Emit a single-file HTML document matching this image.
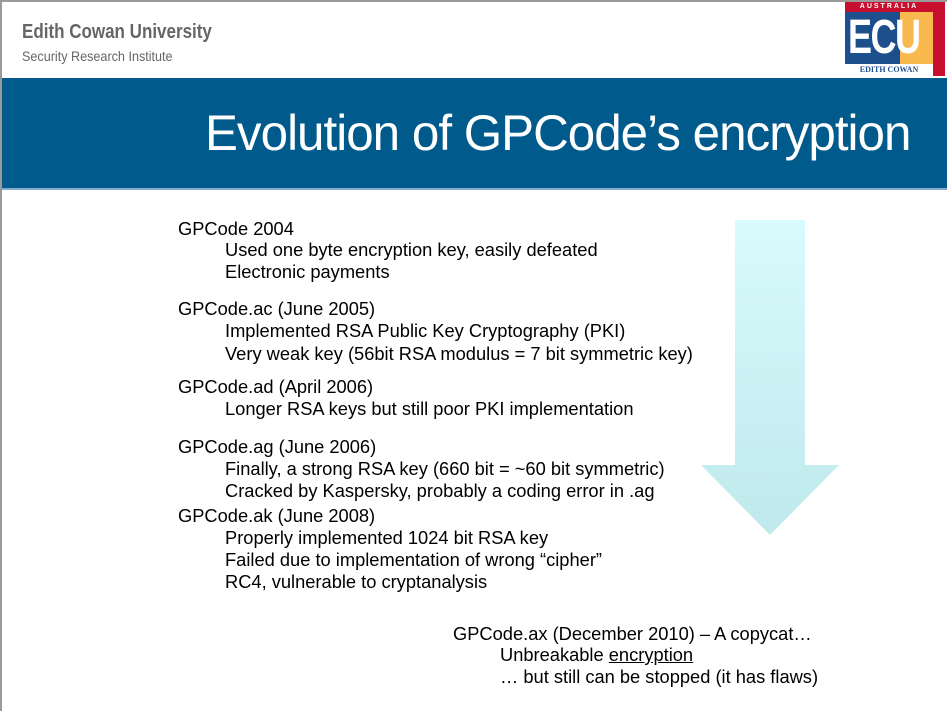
<!DOCTYPE html>
<html><head><meta charset="utf-8"><style>
body{margin:0;width:947px;height:711px;overflow:hidden;background:#fff;font-family:"Liberation Sans",sans-serif;position:relative}
.frame{position:absolute;left:0;top:0;width:945px;height:709px;border-left:2px solid #9a9a9a;border-top:2px solid #9a9a9a}
.t{position:absolute;font-size:18.3px;color:#000;white-space:nowrap;line-height:20px}
</style></head><body>
<div class="frame"></div>
<div style="position:absolute;left:22px;top:21px;font-size:20px;font-weight:bold;color:#666;transform:scaleX(0.85);transform-origin:left">Edith Cowan University</div>
<div style="position:absolute;left:22px;top:48px;font-size:14px;color:#666;transform:scaleX(0.9);transform-origin:left">Security Research Institute</div>
<div style="position:absolute;left:2px;top:78px;width:945px;height:110px;background:#005a8c"></div>
<div style="position:absolute;left:2px;top:188px;width:945px;height:2px;background:#8ac"></div>
<div style="position:absolute;left:205px;top:104px;font-size:50px;color:#fff;letter-spacing:-1px;transform:scaleX(0.987);transform-origin:left;white-space:nowrap">Evolution of GPCode’s encryption</div>
<!-- logo -->
<div style="position:absolute;left:845px;top:2px;width:100px;height:74px;background:#1c4f8c"></div>
<div style="position:absolute;left:845px;top:2px;width:88px;height:10px;background:#c8102e;color:#fff;font-size:7px;font-weight:bold;letter-spacing:2px;text-align:center;line-height:10px">AUSTRALIA</div>
<div style="position:absolute;left:933px;top:2px;width:12px;height:74px;background:#c8102e"></div>
<div style="position:absolute;left:900px;top:12px;width:33px;height:52px;background:#f9b94e"></div>
<div style="position:absolute;left:848px;top:14px;font-size:48px;font-weight:bold;color:#fff;line-height:48px;letter-spacing:-2px;transform:scaleX(0.75);transform-origin:left">ECU</div>
<div style="position:absolute;left:845px;top:64px;width:88px;height:12px;background:#fff;color:#1c4f8c;font-size:8px;font-family:'Liberation Serif',serif;font-weight:bold;text-align:center;line-height:12px">EDITH COWAN</div>
<!-- arrow -->
<svg style="position:absolute;left:0;top:0" width="947" height="711">
<defs><linearGradient id="g" x1="0" y1="0" x2="0" y2="1"><stop offset="0" stop-color="#d8fbfd"/><stop offset="1" stop-color="#bfe9ec"/></linearGradient></defs>
<path d="M735 220 H805 V465 H839 L770 535 L701 465 H735 Z" fill="url(#g)"/>
</svg>
<div class="t" style="left:178px;top:219px">GPCode 2004</div>
<div class="t" style="left:225px;top:240px">Used one byte encryption key, easily defeated</div>
<div class="t" style="left:225px;top:262px">Electronic payments</div>
<div class="t" style="left:178px;top:299px">GPCode.ac (June 2005)</div>
<div class="t" style="left:225px;top:321px">Implemented RSA Public Key Cryptography (PKI)</div>
<div class="t" style="left:225px;top:344px">Very weak key (56bit RSA modulus = 7 bit symmetric key)</div>
<div class="t" style="left:178px;top:377px">GPCode.ad (April 2006)</div>
<div class="t" style="left:225px;top:399px">Longer RSA keys but still poor PKI implementation</div>
<div class="t" style="left:178px;top:437px">GPCode.ag (June 2006)</div>
<div class="t" style="left:225px;top:459px">Finally, a strong RSA key (660 bit = ~60 bit symmetric)</div>
<div class="t" style="left:225px;top:481px">Cracked by Kaspersky, probably a coding error in .ag</div>
<div class="t" style="left:178px;top:506px">GPCode.ak (June 2008)</div>
<div class="t" style="left:225px;top:528px">Properly implemented 1024 bit RSA key</div>
<div class="t" style="left:225px;top:550px">Failed due to implementation of wrong “cipher”</div>
<div class="t" style="left:225px;top:572px">RC4, vulnerable to cryptanalysis</div>
<div class="t" style="left:453px;top:624px">GPCode.ax (December 2010) – A copycat…</div>
<div class="t" style="left:500px;top:645px">Unbreakable <u>encryption</u></div>
<div class="t" style="left:500px;top:667px">… but still can be stopped (it has flaws)</div>
</body></html>
